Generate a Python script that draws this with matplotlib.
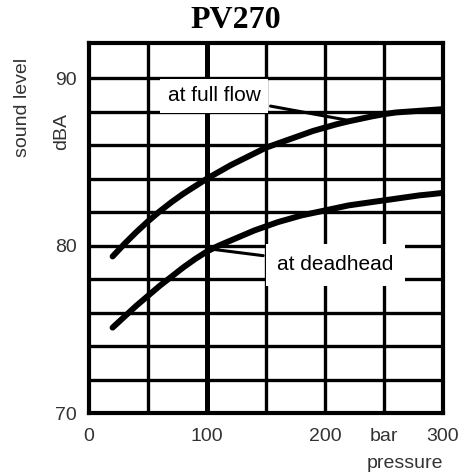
import matplotlib
matplotlib.use("Agg")
import matplotlib.pyplot as plt

# Data
pressure = [20, 30, 40, 50, 60, 70, 80, 90, 100, 110, 120, 130, 140, 150,
            160, 170, 180, 190, 200, 210, 220, 230, 240, 250, 260, 270,
            280, 290, 300]
full_flow = [79.35, 80.1, 80.8, 81.45, 82.05, 82.6, 83.1, 83.55, 84.0,
             84.4, 84.8, 85.15, 85.5, 85.85, 86.1, 86.35, 86.6, 86.85,
             87.05, 87.25, 87.42, 87.57, 87.72, 87.85, 87.95, 88.0, 88.05,
             88.1, 88.15]
deadhead = [75.1, 75.75, 76.4, 77.0, 77.6, 78.15, 78.7, 79.2, 79.65,
            80.0, 80.3, 80.6, 80.9, 81.15, 81.4, 81.6, 81.8, 81.95,
            82.1, 82.25, 82.4, 82.5, 82.6, 82.7, 82.8, 82.9, 83.0,
            83.07, 83.15]

x_ticks = [0, 100, 200, 250, 300]
x_tick_labels = ["0", "100", "200", "bar", "300"]
y_ticks = [70, 80, 90]
y_tick_labels = ["70", "80", "90"]
x_grid = [50, 100, 150, 200, 250]
y_grid = [72, 74, 76, 78, 80, 82, 84, 86, 88, 90]

title = "PV270"
label_full = "at full flow"
label_dead = "at deadhead"

fig = plt.figure(figsize=(4.59, 4.75), dpi=100)
ax = fig.add_axes([89/459, 1-413/475, (443-89)/459, (413-43)/475])
ax.set_xlim(0, 300)
ax.set_ylim(70, 92.1)

sans = "Liberation Sans"
for xv in x_grid:
    ax.axvline(xv, color="black", lw=3.6 if xv == 100 else 2.4, zorder=1)
for yv in y_grid:
    ax.axhline(yv, color="black", lw=2.4, zorder=1)

ax.plot(pressure, full_flow, color="black", lw=4.3, solid_capstyle="round",
        solid_joinstyle="round", zorder=3)
ax.plot(pressure, deadhead, color="black", lw=4.3, solid_capstyle="round",
        solid_joinstyle="round", zorder=3)

ax.annotate(label_full, xy=(222, 87.45), xytext=(106, 88.95),
            fontsize=15, family=sans, ha="center", va="center", zorder=4,
            bbox=dict(boxstyle="square,pad=0.35", fc="white", ec="none"),
            arrowprops=dict(arrowstyle="-", color="black", lw=2.2,
                            shrinkA=2, shrinkB=0))
ax.annotate(label_dead, xy=(102.5, 79.8), xytext=(209, 78.85),
            fontsize=15, family=sans, ha="center", va="center", zorder=4,
            bbox=dict(boxstyle="square,pad=0.55", fc="white", ec="none"),
            arrowprops=dict(arrowstyle="-", color="black", lw=2.2,
                            shrinkA=2, shrinkB=0))

ax.set_xticks(x_ticks)
ax.set_xticklabels(x_tick_labels)
ax.set_yticks(y_ticks)
ax.set_yticklabels(y_tick_labels)
ax.tick_params(axis="both", length=0, labelsize=14, colors="#333333")
ax.tick_params(axis="x", pad=11)
ax.tick_params(axis="y", pad=9)
for lab in ax.get_xticklabels() + ax.get_yticklabels():
    lab.set_family(sans)

for s in ax.spines.values():
    s.set_linewidth(3.0)
    s.set_color("black")
    s.set_zorder(5)

fig.text(236/459, 1-21/475, title, fontsize=23, fontweight="bold",
         family="Liberation Serif", ha="center", va="center")
fig.text(23/459, 1-107/475, "sound level", fontsize=14, family=sans,
         rotation=90, ha="center", va="center", color="#333333")
fig.text(62/459, 1-131/475, "dBA", fontsize=14, family=sans,
         rotation=90, ha="center", va="center", color="#333333")
fig.text(443/459, 1-463/475, "pressure", fontsize=14, family=sans,
         ha="right", va="center", color="#333333")

fig.savefig("out.png", dpi=100, facecolor="white")
